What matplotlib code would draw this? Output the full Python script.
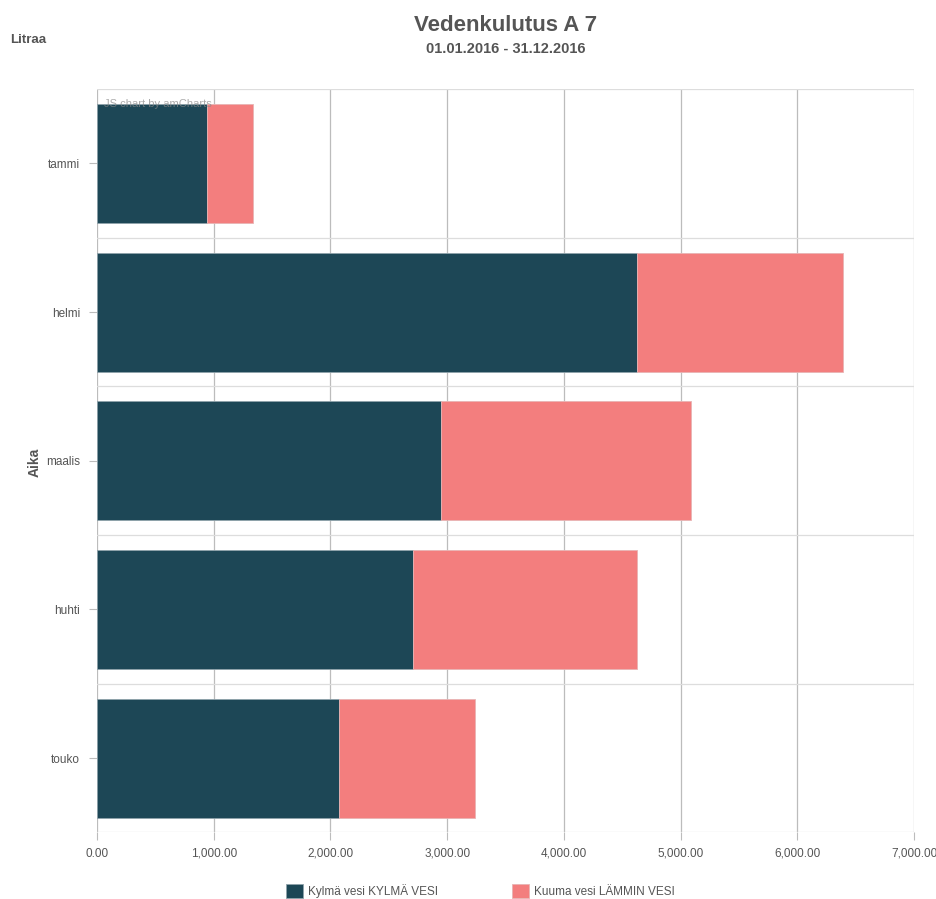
import matplotlib.pyplot as plt
import numpy as np

months = ['tammi', 'helmi', 'maalis', 'huhti', 'touko']
cold_water = [942, 4624, 2947, 2705, 2073]
hot_water = [397, 1765, 2145, 1925, 1169]
x_ticks = [0, 1000, 2000, 3000, 4000, 5000, 6000, 7000]

cold_color = '#1d4756'
hot_color = '#f37e7e'
text_color = '#555555'
font = ['Liberation Sans Narrow', 'Liberation Sans', 'DejaVu Sans']

plt.rcParams['font.family'] = font

fig = plt.figure(figsize=(9.36, 8.99), dpi=100)
ax = fig.add_axes([0.1036, 0.074, 0.8729, 0.827])

y = np.arange(len(months))
ax.barh(y, cold_water, height=0.8, color=cold_color, edgecolor='#8fa3ab',
        linewidth=0.6, zorder=3, label='Kylmä vesi KYLMÄ VESI')
ax.barh(y, hot_water, left=cold_water, height=0.8, color=hot_color,
        edgecolor='#e8b4b4', linewidth=0.6, zorder=3, label='Kuuma vesi LÄMMIN VESI')

ax.set_xlim(0, 7000)
ax.set_ylim(len(months) - 0.5, -0.5)
ax.set_xticks(x_ticks)
ax.set_xticklabels([f'{v:,.2f}' for v in x_ticks], fontsize=8.5, color=text_color)
ax.set_yticks(y)
ax.set_yticklabels(months, fontsize=8.5, color=text_color)

# vertical grid at value ticks, horizontal lines between categories
for v in x_ticks:
    ax.axvline(v, color='#bcbcbc', linewidth=0.9, zorder=1)
for b in np.arange(len(months) + 1) - 0.5:
    ax.axhline(b, color='#dddddd', linewidth=0.9, zorder=1)

for s in ax.spines.values():
    s.set_visible(False)
ax.tick_params(axis='x', length=6, color='#bcbcbc', pad=5)
ax.tick_params(axis='y', length=6, color='#bcbcbc', pad=6)

ax.text(0.008, 0.986, 'JS chart by amCharts', transform=ax.transAxes,
        fontsize=8, color='#888888', alpha=0.7, va='top', ha='left', zorder=4)

fig.text(0.5403, 0.972, 'Vedenkulutus A 7', ha='center', va='center',
         fontsize=16, fontweight='bold', color=text_color)
fig.text(0.5403, 0.945, '01.01.2016 - 31.12.2016', ha='center', va='center',
         fontsize=10.5, fontweight='bold', color=text_color)
fig.text(0.011, 0.955, 'Litraa', ha='left', va='center',
         fontsize=9.5, fontweight='bold', color=text_color)
fig.text(0.037, 0.486, 'Aika', ha='center', va='center', rotation=90,
         fontsize=10, fontweight='bold', color=text_color)

leg = fig.legend(loc='center', bbox_to_anchor=(0.513, 0.009), ncol=2, frameon=False,
                 fontsize=8.5, handlelength=1.45, handleheight=1.45,
                 columnspacing=6.3, handletextpad=0.4)
for t in leg.get_texts():
    t.set_color(text_color)

fig.savefig('out.png', dpi=100)
